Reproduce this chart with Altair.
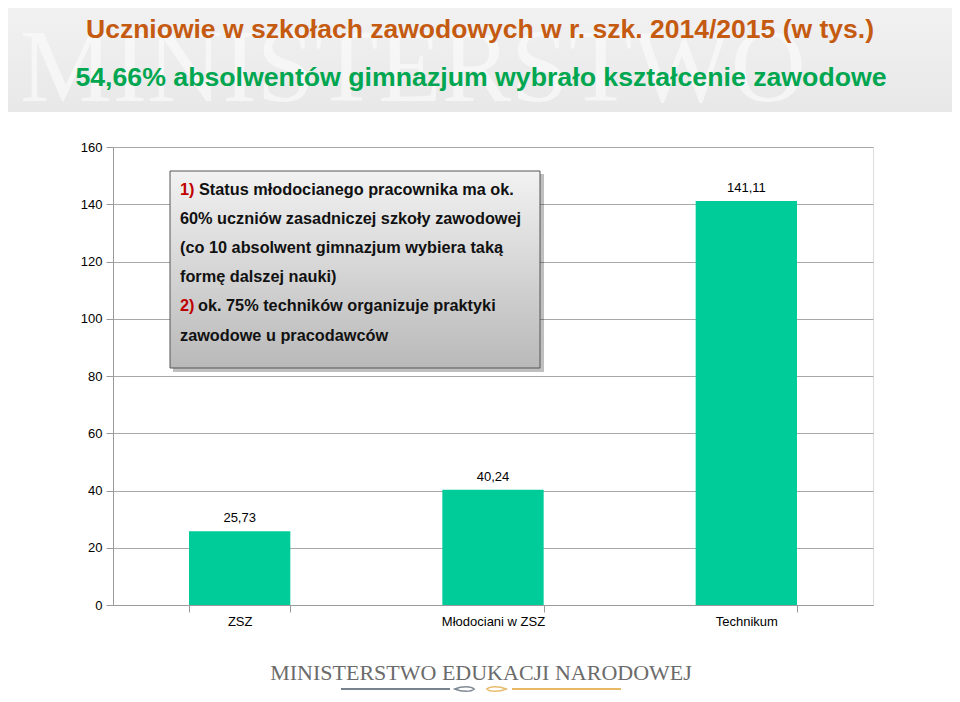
import altair as alt
import pandas as pd

categories = ["ZSZ", "Młodociani w ZSZ", "Technikum"]
values = [25.73, 40.24, 141.11]
value_labels = ["25,73", "40,24", "141,11"]
y_ticks = [0, 20, 40, 60, 80, 100, 120, 140, 160]

title_1 = "Uczniowie w szkołach zawodowych w r. szk. 2014/2015 (w tys.)"
title_2 = "54,66% absolwentów gimnazjum wybrało kształcenie zawodowe"
box_markers = ["1)", "", "", "", "2)", ""]
box_lines = [
    "Status młodocianego pracownika ma ok.",
    "60% uczniów zasadniczej szkoły zawodowej",
    "(co 10 absolwent gimnazjum wybiera taką",
    "formę dalszej nauki)",
    "ok. 75% techników organizuje praktyki",
    "zawodowe u pracodawców",
]
footer_text = "MINISTERSTWO EDUKACJI NARODOWEJ"
watermark = "MINISTERSTWO"

FONT = "Liberation Sans"
W, H = 760, 458

df = pd.DataFrame({"cat": categories, "val": values, "lab": value_labels})
one = pd.DataFrame({"k": [0]})

base = alt.Chart(df)

bars = base.mark_bar(color="#00CC99").encode(
    x=alt.X("cat:N", sort=categories, title=None,
            scale=alt.Scale(paddingInner=0.6, paddingOuter=0.3),
            axis=alt.Axis(labelAngle=0, tickBand="extent", tickSize=7,
                          labelPadding=3, labelFontSize=13, labelColor="#000",
                          domainColor="#9a9a9a", tickColor="#9a9a9a",
                          labelFont=FONT, grid=False)),
    y=alt.Y("val:Q", title=None,
            scale=alt.Scale(domain=[0, 160], nice=False),
            axis=alt.Axis(values=y_ticks, tickSize=7, labelPadding=4,
                          labelFontSize=13, labelColor="#000", labelFont=FONT,
                          domainColor="#9a9a9a", tickColor="#9a9a9a",
                          gridColor="#a8a8a8", grid=True)),
)

labels = base.mark_text(dy=-13, baseline="middle", fontSize=13, font=FONT,
                        color="#000").encode(
    x=alt.X("cat:N", sort=categories),
    y="val:Q",
    text="lab:N",
)

# header band
header = alt.Chart(one).mark_rect(
    color=alt.Gradient(gradient="linear",
                       stops=[alt.GradientStop(color="#f2f2f2", offset=0),
                              alt.GradientStop(color="#e8e8e8", offset=1)],
                       x1=0, x2=0, y1=0, y2=1)
).encode(x=alt.value(-113), x2=alt.value(850), y=alt.value(-147), y2=alt.value(-35))

wm = alt.Chart(one).mark_text(fontSize=104, font="Liberation Serif", color="#ffffff",
                              opacity=0.55, align="left", baseline="alphabetic").encode(
    x=alt.value(-93), y=alt.value(-46), text=alt.value(watermark))

t1 = alt.Chart(one).mark_text(fontSize=26.5, fontWeight="bold", font=FONT,
                              color="#C55A11", baseline="middle").encode(
    x=alt.value(367), y=alt.value(-117), text=alt.value(title_1))
t2 = alt.Chart(one).mark_text(fontSize=26.7, fontWeight="bold", font=FONT,
                              color="#00A650", baseline="middle").encode(
    x=alt.value(368), y=alt.value(-69), text=alt.value(title_2))

# text box
shadow = alt.Chart(one).mark_rect(color="#000", opacity=0.25).encode(
    x=alt.value(60), x2=alt.value(431), y=alt.value(27), y2=alt.value(225))
box = alt.Chart(one).mark_rect(
    stroke="#555555", strokeWidth=1,
    color=alt.Gradient(gradient="linear",
                       stops=[alt.GradientStop(color="#f2f2f2", offset=0),
                              alt.GradientStop(color="#b9b9b9", offset=1)],
                       x1=0, x2=0, y1=0, y2=1)
).encode(x=alt.value(57), x2=alt.value(427), y=alt.value(24), y2=alt.value(221))

line_y = [43, 72, 101, 130, 159, 189]
box_df = pd.DataFrame({"m": box_markers, "t": box_lines, "ly": line_y,
                       "lx": [86, 67, 67, 67, 85, 67]})
box_text = alt.Chart(box_df).mark_text(fontSize=16.3, fontWeight="bold", font=FONT,
                                       color="#111", align="left",
                                       baseline="middle").encode(
    x=alt.X("lx:Q", scale=None), y=alt.Y("ly:Q", scale=None), text="t:N")
box_mark = alt.Chart(box_df).transform_filter("datum.m != ''").mark_text(
    fontSize=16.3, fontWeight="bold", font=FONT, color="#C00000",
    align="left", baseline="middle").encode(
    x=alt.value(67), y=alt.Y("ly:Q", scale=None), text="m:N")

# footer
FY = 542
footer = alt.Chart(one).mark_text(fontSize=22, font="Liberation Serif",
                                  color="#6b6b6b", baseline="middle").encode(
    x=alt.value(368), y=alt.value(526), text=alt.value(footer_text))
f_line1 = alt.Chart(one).mark_rule(color="#4a5868", strokeWidth=1.5).encode(
    x=alt.value(228), x2=alt.value(337), y=alt.value(FY))
f_line2 = alt.Chart(one).mark_rule(color="#E0A030", strokeWidth=1.5).encode(
    x=alt.value(399), x2=alt.value(508), y=alt.value(FY))
drop_l = alt.Chart(one).mark_point(
    shape="M -1 0 C -0.3 -0.3 0.6 -0.3 0.9 0 C 0.6 0.3 -0.3 0.3 -1 0 Z",
    size=420, color="#4a5868", strokeWidth=1.5, filled=False).encode(
    x=alt.value(352), y=alt.value(FY))
drop_r = alt.Chart(one).mark_point(
    shape="M 1 0 C 0.3 -0.3 -0.6 -0.3 -0.9 0 C -0.6 0.3 0.3 0.3 1 0 Z",
    size=420, color="#E0A030", strokeWidth=1.5, filled=False).encode(
    x=alt.value(383), y=alt.value(FY))

chart = alt.layer(
    header, wm, t1, t2, bars, labels, shadow, box, box_text, box_mark,
    footer, f_line1, f_line2, drop_l, drop_r
).properties(
    width=W, height=H,
    autosize=alt.AutoSizeParams(type="none"),
    padding={"left": 105, "top": 139, "right": 79, "bottom": 89},
).configure_view(stroke=None).configure(font=FONT)

chart.save("out.html", embed_options={"renderer": "svg", "actions": False})
